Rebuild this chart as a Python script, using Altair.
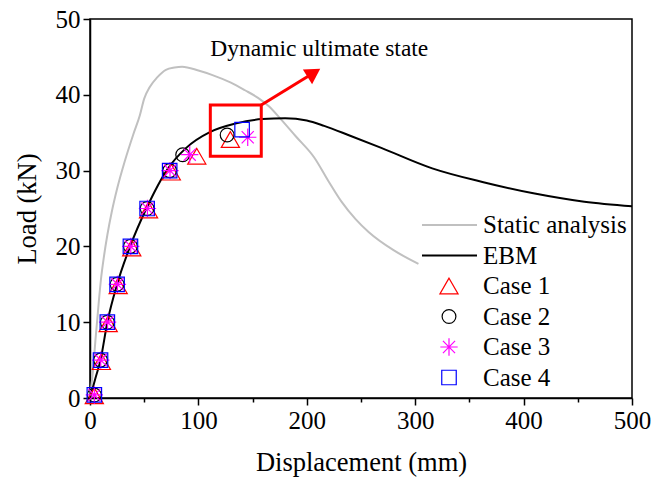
import altair as alt
import pandas as pd

FONT = "Liberation Serif"

# ---- data ----
static_x = [0, 3, 5, 8, 10, 13, 16, 20, 25, 32, 40, 46, 50, 55, 62, 70, 78, 85, 100, 113, 130, 143, 155, 165, 176, 190, 207, 220, 232, 245, 257, 280, 303]
static_y = [0, 4, 7.6, 12.5, 15.5, 18.8, 21.5, 24.5, 27.6, 31.2, 34.8, 37.3, 39.5, 41, 42.3, 43.3, 43.6, 43.7, 43.2, 42.6, 41.6, 40.6, 39.6, 38.5, 36.8, 34.5, 31.7, 28.6, 25.9, 23.6, 21.9, 19.5, 17.7]

ebm_x = [0, 5, 9.7, 16, 25, 37, 52, 72, 88, 111, 134, 159, 180, 200, 216, 240, 268.7, 315.7, 362, 409, 456, 500]
ebm_y = [0, 2.6, 5, 10, 15, 20, 25, 30.3, 32.9, 35.1, 36.2, 36.8, 36.9, 36.6, 35.9, 34.6, 33, 30.3, 28.5, 27, 25.9, 25.3]

case1_x = [4, 10.5, 16.8, 26, 38.5, 54, 75, 98.5, 129.5]
case1_y = [0.3, 4.8, 9.8, 14.8, 19.8, 24.8, 29.8, 31.9, 34.1]
case2_x = [4, 9.7, 16, 25, 37.3, 52.7, 73.5, 85.5, 126.5]
case2_y = [0.4, 5, 10, 15, 20, 25, 30, 32.1, 34.7]
case3_x = [4, 9.9, 16.2, 25.3, 37.6, 53, 73.8, 92, 145.5]
case3_y = [0.4, 5, 10, 15, 20, 25, 30, 32.1, 34.4]
case4_x = [4, 9.7, 16, 25, 37.3, 52.7, 73.5, 140.3]
case4_y = [0.4, 5, 10, 15, 20, 25, 30, 35.4]

series_names = ["Static analysis", "EBM", "Case 1", "Case 2", "Case 3", "Case 4"]
case_names = ["Case 1", "Case 2", "Case 3", "Case 4"]
case_colors = ["#ff0000", "#000000", "#ff00ff", "#0000ff"]
STAR = "M-1,0L1,0M0,-1L0,1M-0.7,-0.7L0.7,0.7M-0.7,0.7L0.7,-0.7"
case_shapes = ["triangle-up", "circle", STAR, "square"]
case_sizes = [330, 190, 300, 210]

# annotation (data coordinates)
box_x = [111]
box_x2 = [158]
box_y = [31.9]
box_y2 = [38.65]
arrow_x = [158, 206.5]
arrow_y = [38.65, 42.9]
note_text = "Dynamic ultimate state"
note_x = [111]
note_y = [45.1]

# ---- frames ----
static_df = pd.DataFrame({"x": static_x, "y": static_y})
ebm_df = pd.DataFrame({"x": ebm_x, "y": ebm_y})
rows = []
for name, xs, ys in [("Case 1", case1_x, case1_y), ("Case 2", case2_x, case2_y),
                     ("Case 3", case3_x, case3_y), ("Case 4", case4_x, case4_y)]:
    for a, b in zip(xs, ys):
        rows.append({"x": a, "y": b, "series": name})
cases_df = pd.DataFrame(rows)

W, H = 542, 379
xscale = alt.Scale(domain=[0, 500], nice=False, zero=False)
yscale = alt.Scale(domain=[0, 50], nice=False, zero=False)

xaxis = alt.Axis(
    values=list(range(0, 501, 50)),
    labelExpr="datum.value % 100 === 0 ? datum.label : ''",
    tickSize={"condition": {"test": "datum.value % 100 === 0", "value": 7}, "value": 4},
    title="Displacement (mm)", grid=False, labelFlush=False, labelOverlap=False,
)
yaxis = alt.Axis(
    values=list(range(0, 51, 5)),
    labelExpr="datum.value % 10 === 0 ? datum.label : ''",
    tickSize={"condition": {"test": "datum.value % 10 === 0", "value": 7}, "value": 4},
    title="Load (kN)", grid=False, labelFlush=False, labelOverlap=False,
)

X = alt.X("x:Q", scale=xscale, axis=xaxis)
Y = alt.Y("y:Q", scale=yscale, axis=yaxis)

static_line = alt.Chart(static_df).mark_line(color="#c0c0c0", strokeWidth=2, interpolate="monotone").encode(x=X, y=Y)
ebm_line = alt.Chart(ebm_df).mark_line(color="black", strokeWidth=2, interpolate="monotone").encode(x=X, y=Y)

pts = []
for name, col, shp, sz in zip(case_names, case_colors, case_shapes, case_sizes):
    pts.append(
        alt.Chart(cases_df[cases_df.series == name]).mark_point(
            shape=shp, color=col, filled=False, strokeWidth=1.2, size=sz, opacity=1
        ).encode(x=X, y=Y)
    )

box_df = pd.DataFrame({"x": box_x, "x2": box_x2, "y": box_y, "y2": box_y2})
box = alt.Chart(box_df).mark_rect(fill=None, stroke="#ff0000", strokeWidth=3, fillOpacity=0).encode(
    x=alt.X("x:Q", scale=xscale), x2="x2", y=alt.Y("y:Q", scale=yscale), y2="y2")

arrow_df = pd.DataFrame({"x": arrow_x, "y": arrow_y})
arrow_line = alt.Chart(arrow_df).mark_line(color="#ff0000", strokeWidth=3).encode(
    x=alt.X("x:Q", scale=xscale), y=alt.Y("y:Q", scale=yscale))
head_df = arrow_df.tail(1)
arrow_head = alt.Chart(head_df).mark_point(
    shape="triangle-up", filled=True, color="#ff0000", size=300, angle=58, opacity=1
).encode(x=alt.X("x:Q", scale=xscale), y=alt.Y("y:Q", scale=yscale))

note_df = pd.DataFrame({"x": note_x, "y": note_y, "t": [note_text]})
note = alt.Chart(note_df).mark_text(
    font=FONT, fontSize=23.5, align="left", baseline="alphabetic", color="black"
).encode(x=alt.X("x:Q", scale=xscale), y=alt.Y("y:Q", scale=yscale), text="t:N")

# ---- manual legend (pixel space) ----
leg_y0 = 206
leg_dy = 30.5
line_legend = pd.DataFrame({
    "x1": [332, 332], "x2": [387, 387],
    "y": [leg_y0 + i * leg_dy for i in range(2)],
    "c": ["#c0c0c0", "#000000"],
})
leg_lines = alt.Chart(line_legend).mark_rule(strokeWidth=2).encode(
    x=alt.X("x1:Q", scale=None), x2="x2:Q", y=alt.Y("y:Q", scale=None),
    color=alt.Color("c:N", scale=None))
leg_pts = []
for i, (col, shp, sz) in enumerate(zip(case_colors, case_shapes, case_sizes)):
    d = pd.DataFrame({"x": [359], "y": [leg_y0 + (i + 2) * leg_dy]})
    leg_pts.append(alt.Chart(d).mark_point(
        shape=shp, color=col, filled=False, strokeWidth=1.2, size=sz, opacity=1
    ).encode(x=alt.X("x:Q", scale=None), y=alt.Y("y:Q", scale=None)))
text_df = pd.DataFrame({
    "x": [393] * 6,
    "y": [leg_y0 + i * leg_dy for i in range(6)],
    "t": series_names,
})
leg_text = alt.Chart(text_df).mark_text(
    font=FONT, fontSize=25, align="left", baseline="middle", color="black"
).encode(x=alt.X("x:Q", scale=None), y=alt.Y("y:Q", scale=None), text="t:N")

chart = alt.layer(
    static_line, ebm_line, *pts, box, arrow_line, arrow_head, note,
    leg_lines, *leg_pts, leg_text
).properties(
    width=W, height=H,
    autosize=alt.AutoSizeParams(type="none"),
    padding={"left": 90, "top": 19, "right": 20, "bottom": 85},
    background="white",
).configure_view(
    stroke="black", strokeWidth=1.5
).configure_axis(
    labelFont=FONT, titleFont=FONT, labelFontSize=25, titleFontSize=26.5,
    titleFontWeight="normal", labelColor="black", titleColor="black",
    domainColor="black", domainWidth=1.5, tickColor="black", tickWidth=1.5,
).configure_axisX(
    labelPadding=3, titlePadding=16,
).configure_axisY(
    labelPadding=3, titlePadding=14,
)

chart.save("out.html", embed_options={"renderer": "svg", "actions": False})
